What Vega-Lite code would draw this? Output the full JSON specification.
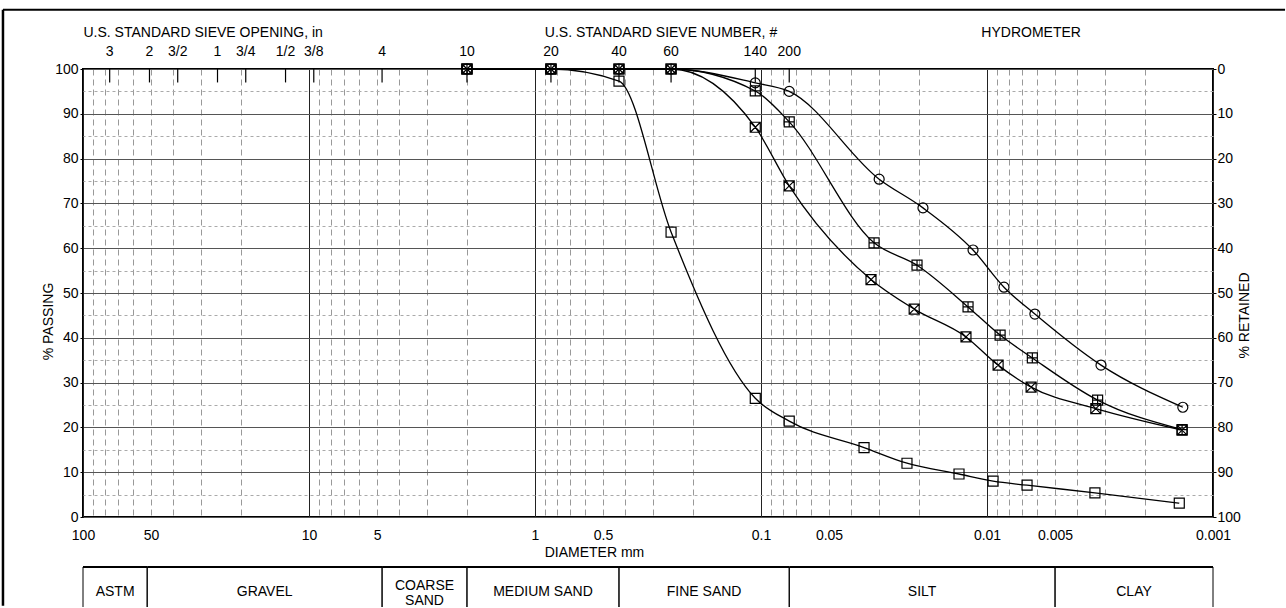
{
  "$schema": "https://vega.github.io/schema/vega-lite/v6.json",
  "padding": {"left": 0, "top": 7, "right": 0, "bottom": 0},
  "background": "white",
  "bounds": "flush",
  "spacing": 50,
  "config": {
    "font": "Liberation Sans",
    "view": {"stroke": null},
    "axis": {"labelFont": "Liberation Sans", "labelFontSize": 14, "labelColor": "black", "titleFont": "Liberation Sans", "titleFontSize": 14, "titleFontWeight": "normal", "titleColor": "black", "tickColor": "black", "domain": false},
    "text": {"font": "Liberation Sans", "fontSize": 14, "color": "black"}
  },
  "datasets": {
    "pts": [
      {"s": "A", "d": 2.0, "p": 100}, {"s": "A", "d": 0.85, "p": 100}, {"s": "A", "d": 0.425, "p": 100}, {"s": "A", "d": 0.25, "p": 100},
      {"s": "A", "d": 0.106, "p": 96.9}, {"s": "A", "d": 0.075, "p": 95.0}, {"s": "A", "d": 0.030, "p": 75.4}, {"s": "A", "d": 0.0192, "p": 69.0},
      {"s": "A", "d": 0.01153, "p": 59.6}, {"s": "A", "d": 0.00841, "p": 51.3}, {"s": "A", "d": 0.00614, "p": 45.3}, {"s": "A", "d": 0.00313, "p": 33.9},
      {"s": "A", "d": 0.00136, "p": 24.5},
      {"s": "B", "d": 2.0, "p": 100}, {"s": "B", "d": 0.85, "p": 100}, {"s": "B", "d": 0.425, "p": 100}, {"s": "B", "d": 0.25, "p": 100},
      {"s": "B", "d": 0.106, "p": 95.1}, {"s": "B", "d": 0.075, "p": 88.2}, {"s": "B", "d": 0.0316, "p": 61.2}, {"s": "B", "d": 0.0204, "p": 56.2},
      {"s": "B", "d": 0.01213, "p": 46.9}, {"s": "B", "d": 0.00875, "p": 40.6}, {"s": "B", "d": 0.0063, "p": 35.5}, {"s": "B", "d": 0.00324, "p": 26.1},
      {"s": "B", "d": 0.00137, "p": 19.5},
      {"s": "C", "d": 2.0, "p": 100}, {"s": "C", "d": 0.85, "p": 100}, {"s": "C", "d": 0.425, "p": 100}, {"s": "C", "d": 0.25, "p": 100},
      {"s": "C", "d": 0.106, "p": 87.0}, {"s": "C", "d": 0.075, "p": 73.9}, {"s": "C", "d": 0.0326, "p": 53.0}, {"s": "C", "d": 0.0210, "p": 46.4},
      {"s": "C", "d": 0.01239, "p": 40.2}, {"s": "C", "d": 0.00893, "p": 33.9}, {"s": "C", "d": 0.00638, "p": 29.0}, {"s": "C", "d": 0.0033, "p": 24.2},
      {"s": "C", "d": 0.00137, "p": 19.4},
      {"s": "D", "d": 2.0, "p": 100}, {"s": "D", "d": 0.85, "p": 100}, {"s": "D", "d": 0.425, "p": 97.3}, {"s": "D", "d": 0.25, "p": 63.6},
      {"s": "D", "d": 0.106, "p": 26.5}, {"s": "D", "d": 0.075, "p": 21.4}, {"s": "D", "d": 0.035, "p": 15.5}, {"s": "D", "d": 0.0226, "p": 12.0},
      {"s": "D", "d": 0.0133, "p": 9.6}, {"s": "D", "d": 0.0094, "p": 8.0}, {"s": "D", "d": 0.00665, "p": 7.1}, {"s": "D", "d": 0.00333, "p": 5.4},
      {"s": "D", "d": 0.00141, "p": 3.1}
    ],
    "sieves": [
      {"label": "3", "d": 76.2}, {"label": "2", "d": 50.8}, {"label": "3/2", "d": 38.1}, {"label": "1", "d": 25.4},
      {"label": "3/4", "d": 19.05}, {"label": "1/2", "d": 12.7}, {"label": "3/8", "d": 9.525}, {"label": "4", "d": 4.75},
      {"label": "10", "d": 2.0}, {"label": "20", "d": 0.85}, {"label": "40", "d": 0.425}, {"label": "60", "d": 0.25},
      {"label": "140", "d": 0.106}, {"label": "200", "d": 0.075}
    ],
    "headers": [
      {"t": "U.S. STANDARD SIEVE OPENING, in", "d": 29.4},
      {"t": "U.S. STANDARD SIEVE NUMBER, #", "d": 0.277},
      {"t": "HYDROMETER", "d": 0.00638}
    ],
    "zones": [
      {"zone": "ASTM", "from": 100, "to": 52, "lines": 1},
      {"zone": "GRAVEL", "from": 52, "to": 4.75, "lines": 1},
      {"zone": "COARSE\nSAND", "from": 4.75, "to": 2.0, "lines": 2},
      {"zone": "MEDIUM SAND", "from": 2.0, "to": 0.425, "lines": 1},
      {"zone": "FINE SAND", "from": 0.425, "to": 0.075, "lines": 1},
      {"zone": "SILT", "from": 0.075, "to": 0.005, "lines": 1},
      {"zone": "CLAY", "from": 0.005, "to": 0.001, "lines": 1}
    ]
  },
  "vconcat": [
    {
      "width": 1130,
      "height": 448,
      "view": {"stroke": "black", "strokeWidth": 2},
      "resolve": {"axis": {"y": "independent"}},
      "layer": [
        {
          "data": {"name": "pts"},
          "mark": {"type": "line", "interpolate": "monotone", "color": "black", "strokeWidth": 1.3},
          "encoding": {
            "x": {
              "field": "d", "type": "quantitative",
              "scale": {"type": "log", "domain": [0.001, 100], "reverse": true},
              "axis": {
                "orient": "bottom",
                "values": [100, 90, 80, 70, 60, 50, 40, 30, 20, 10, 9, 8, 7, 6, 5, 4, 3, 2, 1, 0.9, 0.8, 0.7, 0.6, 0.5, 0.4, 0.3, 0.2, 0.1, 0.09, 0.08, 0.07, 0.06, 0.05, 0.04, 0.03, 0.02, 0.01, 0.009, 0.008, 0.007, 0.006, 0.005, 0.004, 0.003, 0.002, 0.001],
                "labelExpr": "indexof([100, 50, 10, 5, 1, 0.5, 0.1, 0.05, 0.01, 0.005, 0.001], datum.value) >= 0 ? format(datum.value, '~g') : ''",
                "ticks": false,
                "tickSize": 0,
                "labelPadding": 11,
                "labelFlush": false,
                "labelOverlap": false,
                "grid": true,
                "gridColor": {"condition": {"test": "indexof([100, 10, 1, 0.1, 0.01, 0.001], datum.value) >= 0", "value": "#222"}, "value": "#999"},
                "gridDash": {"condition": {"test": "indexof([100, 10, 1, 0.1, 0.01, 0.001], datum.value) >= 0", "value": []}, "value": [6, 4]},
                "title": "DIAMETER mm",
                "titleX": 511,
                "titleY": 35,
                "titleBaseline": "middle"
              }
            },
            "y": {
              "field": "p", "type": "quantitative",
              "scale": {"domain": [0, 100], "nice": false},
              "axis": {
                "orient": "left",
                "values": [0, 5, 10, 15, 20, 25, 30, 35, 40, 45, 50, 55, 60, 65, 70, 75, 80, 85, 90, 95, 100],
                "labelExpr": "datum.value % 10 === 0 ? datum.label : ''",
                "tickSize": 3,
                "tickOpacity": {"condition": {"test": "datum.value % 10 === 0", "value": 1}, "value": 0},
                "labelPadding": 2,
                "labelFlush": false,
                "labelOverlap": false,
                "grid": true,
                "gridColor": {"condition": {"test": "datum.value % 10 === 0", "value": "#555"}, "value": "#aaa"},
                "gridDash": {"condition": {"test": "datum.value % 10 === 0", "value": []}, "value": [3, 3]},
                "title": "% PASSING",
                "titleAngle": 270,
                "titleX": -35,
                "titleY": 252,
                "titleAlign": "center",
                "titleBaseline": "middle"
              }
            },
            "detail": {"field": "s"}
          }
        },
        {
          "data": {"name": "pts"},
          "mark": {"type": "point", "filled": false, "color": "black", "strokeWidth": 1.2, "size": 100, "opacity": 1},
          "encoding": {
            "x": {"field": "d", "type": "quantitative"},
            "y": {
              "field": "p", "type": "quantitative",
              "axis": {
                "orient": "right",
                "values": [0, 10, 20, 30, 40, 50, 60, 70, 80, 90, 100],
                "labelExpr": "format(100 - datum.value, 'd')",
                "grid": false,
                "tickSize": 3,
                "labelPadding": 1,
                "labelFlush": false,
                "labelOverlap": false,
                "title": "% RETAINED",
                "titleAngle": 270,
                "titleX": 31,
                "titleY": 246,
                "titleAlign": "center",
                "titleBaseline": "middle"
              }
            },
            "shape": {
              "field": "s", "type": "nominal",
              "scale": {"domain": ["A", "B", "C", "D"], "range": ["circle", "M-1,-1L1,-1L1,1L-1,1Z M0,-1L0,1 M-1,0L1,0", "M-1,-1L1,-1L1,1L-1,1Z M-1,-1L1,1 M1,-1L-1,1", "square"]},
              "legend": null
            }
          }
        },
        {
          "data": {"name": "sieves"},
          "mark": {"type": "rule", "color": "black", "strokeWidth": 1.2},
          "encoding": {
            "x": {"field": "d", "type": "quantitative"},
            "y": {"datum": 100, "axis": null},
            "y2": {"datum": 97}
          }
        },
        {
          "data": {"name": "sieves"},
          "mark": {"type": "text", "baseline": "middle", "fontSize": 14},
          "encoding": {
            "x": {"field": "d", "type": "quantitative"},
            "y": {"datum": 103.8, "axis": null},
            "text": {"field": "label"}
          }
        },
        {
          "data": {"name": "headers"},
          "mark": {"type": "text", "baseline": "middle", "fontSize": 14},
          "encoding": {
            "x": {"field": "d", "type": "quantitative"},
            "y": {"datum": 108, "axis": null},
            "text": {"field": "t"}
          }
        },
        {
          "data": {"values": [{}]},
          "mark": {"type": "rule", "color": "black", "strokeWidth": 2},
          "encoding": {
            "x": {"datum": 226},
            "x2": {"datum": 0.00048},
            "y": {"datum": 113.2, "axis": null}
          }
        },
        {
          "data": {"values": [{}]},
          "mark": {"type": "rule", "color": "black", "strokeWidth": 2.5},
          "encoding": {
            "x": {"datum": 226},
            "y": {"datum": 113.2, "axis": null},
            "y2": {"datum": -19.8}
          }
        }
      ]
    },
    {
      "width": 1130,
      "height": 40,
      "data": {"name": "zones"},
      "transform": [{"calculate": "sqrt(datum.from * datum.to)", "as": "mid"}],
      "layer": [
        {
          "mark": {"type": "rule", "color": "black", "strokeWidth": 1},
          "encoding": {
            "x": {"field": "from", "type": "quantitative", "scale": {"type": "log", "domain": [0.001, 100], "reverse": true}, "axis": null},
            "y": {"datum": 0, "scale": {"domain": [0, 1]}, "axis": null},
            "y2": {"datum": 1}
          }
        },
        {
          "mark": {"type": "rule", "color": "black", "strokeWidth": 1},
          "encoding": {
            "x": {"field": "to", "type": "quantitative", "axis": null},
            "y": {"datum": 0, "axis": null},
            "y2": {"datum": 1}
          }
        },
        {
          "mark": {"type": "rule", "color": "black", "strokeWidth": 2},
          "encoding": {
            "x": {"field": "from", "type": "quantitative", "axis": null},
            "x2": {"field": "to"},
            "y": {"datum": 1, "axis": null}
          }
        },
        {
          "transform": [{"filter": "datum.lines === 1"}],
          "mark": {"type": "text", "baseline": "middle", "fontSize": 14},
          "encoding": {
            "x": {"field": "mid", "type": "quantitative", "axis": null},
            "y": {"datum": 0.375, "axis": null},
            "text": {"field": "zone"}
          }
        },
        {
          "transform": [{"filter": "datum.lines === 2"}],
          "mark": {"type": "text", "baseline": "middle", "lineBreak": "\n", "fontSize": 14, "lineHeight": 15},
          "encoding": {
            "x": {"field": "mid", "type": "quantitative", "axis": null},
            "y": {"datum": 0.525, "axis": null},
            "text": {"field": "zone"}
          }
        }
      ]
    }
  ]
}
